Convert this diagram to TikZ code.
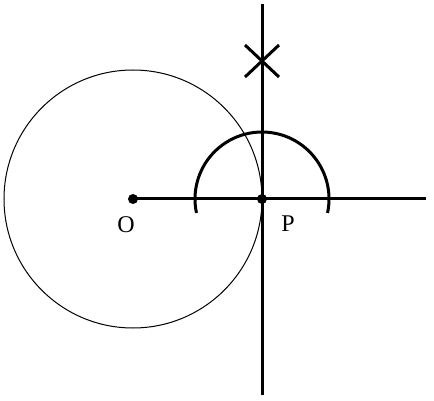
\documentclass[tikz,border=0pt]{standalone}
\usepackage{fontspec}
\setmainfont{Liberation Serif}
\usetikzlibrary{calc}
\begin{document}
\begin{tikzpicture}[x=1pt,y=-1pt,
  thickline/.style={line width=3pt},
  thinline/.style={line width=1pt},
  dot/.style={circle,fill=black,inner sep=0pt,minimum size=10pt},
  lbl/.style={font=\fontsize{24}{28}\selectfont,inner sep=0pt}]
\useasboundingbox (0,0) rectangle (434,401);
\node[dot] (O) at (133,199) {};
\node[dot] (P) at (262,199) {};
\coordinate (top) at (262,4);
\coordinate (bot) at (262,395);
\coordinate (right) at (426,199);
\draw[thinline] (O.center) circle (129);
\draw[thickline] (top) -- (bot);
\draw[thickline] (O.center) -- (right);
\draw[thickline] (P.center) ++(12:67) arc[start angle=12,end angle=-192,radius=67];
\coordinate (X) at (262,61);
\draw[thickline] ($(X)+(-17,-16)$) -- ($(X)+(17,16)$);
\draw[thickline] ($(X)+(-17,16)$) -- ($(X)+(17,-16)$);
\node[lbl] (Ol) at (126,224.5) {O};
\node[lbl] (Pl) at (288,224) {P};
\end{tikzpicture}
\end{document}
